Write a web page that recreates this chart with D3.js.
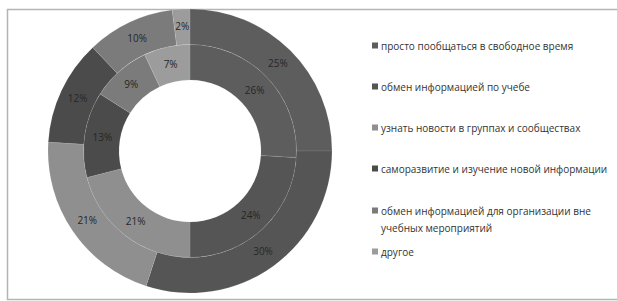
<!DOCTYPE html>
<html>
<head>
<meta charset="utf-8">
<script src="https://cdn.jsdelivr.net/npm/d3@7"></script>
<style>
  body { margin: 0; background: #fff; }
  svg { display: block; }
  .lbl { font-family: "Open Sans", sans-serif; font-size: 10px; fill: #262626; }
  .leg { font-family: "Open Sans", sans-serif; font-size: 10px; fill: #333; }
</style>
</head>
<body>
<div id="chart"></div>
<script>
(function () {

  // categories (legend order)
  var categories = [
    "просто пообщаться в свободное время",
    "обмен информацией по учебе",
    "узнать новости в группах и сообществах",
    "саморазвитие и изучение новой информации",
    "обмен информацией для организации вне учебных мероприятий",
    "другое"
  ];
  // inner ring
  var innerValues = [26, 24, 21, 13, 9, 7];
  // outer ring
  var outerValues = [25, 30, 21, 12, 10, 2];

  var colors = ["#5d5d5d", "#555555", "#8f8f8f", "#4b4b4b", "#7b7b7b", "#9c9c9c"];

  var w = 617, h = 301;
  var cx = 190, cy = 151;
  var rHole = 71, rMid = 106.5, rOut = 142;

  var svg = d3.select("#chart").append("svg")
    .attr("width", w)
    .attr("height", h);

  // outer frame
  svg.append("rect")
    .attr("x", 7.5).attr("y", 9.5)
    .attr("width", w + 10).attr("height", 290)
    .attr("fill", "none")
    .attr("stroke", "#b4b4b4")
    .attr("stroke-width", 1.5);

  var pie = d3.pie().sort(null).value(function(d){ return d; });
  var color = d3.scaleOrdinal().domain(d3.range(categories.length)).range(colors);

  var g = svg.append("g").attr("transform", "translate(" + cx + "," + cy + ")");

  function ring(values, r0, r1, cls) {
    var arc = d3.arc().innerRadius(r0).outerRadius(r1);
    var labelArc = d3.arc().innerRadius((r0 + r1) / 2).outerRadius((r0 + r1) / 2);
    var arcs = pie(values);

    g.selectAll("path." + cls)
      .data(arcs)
      .enter()
      .append("path")
      .attr("class", cls)
      .attr("d", arc)
      .attr("fill", function(d, i){ return color(i); })
      .attr("stroke", "rgba(255,255,255,0.09)")
      .attr("stroke-width", 1);

    g.selectAll("text." + cls)
      .data(arcs)
      .enter()
      .append("text")
      .attr("class", "lbl " + cls)
      .attr("transform", function(d){
        var c = labelArc.centroid(d);
        return "translate(" + c[0] + "," + c[1] + ")";
      })
      .attr("text-anchor", "middle")
      .attr("dy", "0.35em")
      .text(function(d){ return d.data + "%"; });
  }

  ring(innerValues, rHole, rMid, "inner");
  ring(outerValues, rMid, rOut, "outer");

  // legend
  var legY = [46, 87, 128, 169, 211, 252];
  var leg = svg.append("g");

  categories.forEach(function(name, i){
    var row = leg.append("g").attr("transform", "translate(372," + legY[i] + ")");
    row.append("rect")
      .attr("x", 0).attr("y", -3.5)
      .attr("width", 6).attr("height", 6)
      .attr("fill", color(i));
    var t = row.append("text")
      .attr("class", "leg")
      .attr("x", 9)
      .attr("dy", "0.35em");
    if (i == 4) {
      t.append("tspan").attr("x", 9).text("обмен информацией для организации вне");
      t.append("tspan").attr("x", 9).attr("dy", "1.7em").text("учебных мероприятий");
    } else {
      t.text(name);
    }
  });

})()
</script>
</body>
</html>
